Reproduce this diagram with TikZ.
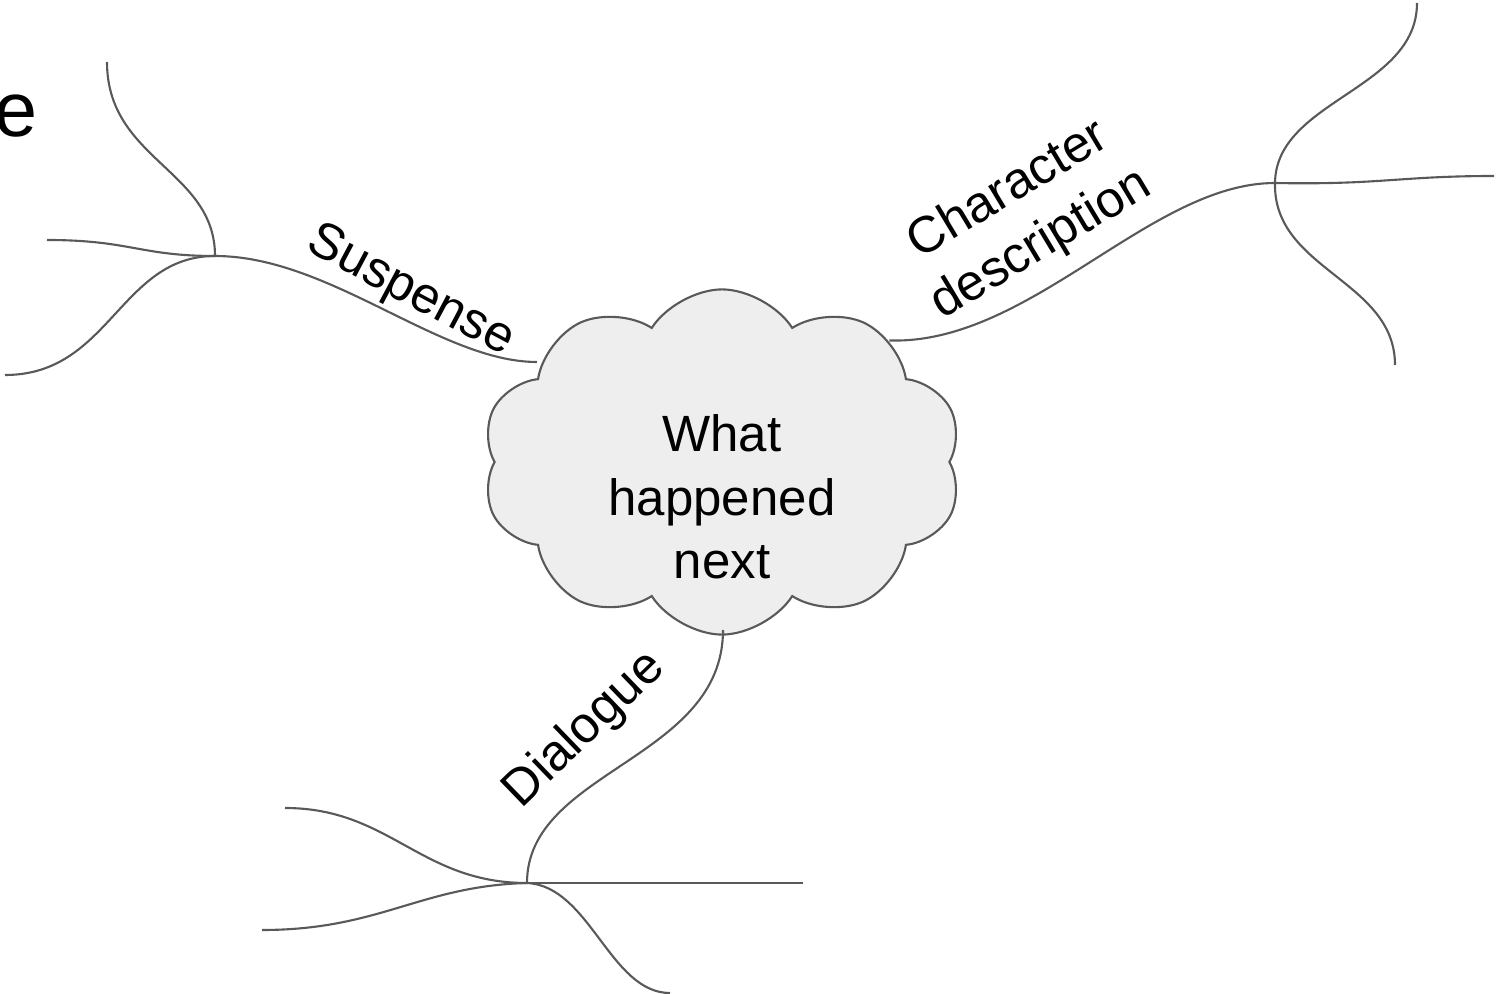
\documentclass[tikz,border=0pt]{standalone}
\usepackage{fontspec}
\setmainfont{Liberation Sans}
\usetikzlibrary{shapes.symbols}
\definecolor{cloudGrey}{HTML}{EEEEEE}
\definecolor{lineGrey}{HTML}{595959}

\begin{document}
\begin{tikzpicture}[x=0.01cm, y=-0.01cm,
    branch/.style={draw=lineGrey, line width=0.6pt},
    lbl/.style={font=\fontsize{14.5}{18}\selectfont, align=center, inner sep=0pt}]
    \useasboundingbox (0,0) rectangle (1499,994);
    % central cloud
    \node[cloud, cloud puffs=10, cloud puff arc=115, aspect=1.41, draw=lineGrey, fill=cloudGrey, line width=0.6pt,
        minimum width=4.8cm, minimum height=3.45cm, inner sep=0pt] (idea) at (722,462) {};
    \node[lbl] (ideaText) at (722,497) {What\\happened\\next};
    \node[font=\fontsize{22}{26}\selectfont, anchor=base east, inner sep=0pt] (cutText) at (38,137) {e};
    % cloud ends, junctions and free ends
    \coordinate (ideaW) at (537,362);
    \coordinate (ideaE) at (idea.36);
    \coordinate (ideaS) at (723,630);
    \coordinate (jSus) at (215,256);
    \coordinate (jChar) at (1275,183);
    \coordinate (jDia) at (527,883);
    \coordinate (susUp) at (107,62);
    \coordinate (susLeft) at (47,240);
    \coordinate (susDown) at (5,375);
    \coordinate (charUp) at (1417,3);
    \coordinate (charRight) at (1494,176);
    \coordinate (charDown) at (1395,365);
    \coordinate (diaRight) at (803,883);
    \coordinate (diaUp) at (285,808);
    \coordinate (diaLeft) at (262,930);
    \coordinate (diaDown) at (670,993);
    % main branches
    \draw[branch] (ideaW) .. controls (440,362) and (330,256) .. (jSus);
    \draw[branch] (ideaE) .. controls (1030,345) and (1150,183) .. (jChar);
    \draw[branch] (ideaS) .. controls (723,760) and (527,770) .. (jDia);
    % sub-branches
    \draw[branch] (jSus) .. controls (215,170) and (107,160) .. (susUp);
    \draw[branch] (jSus) .. controls (140,256) and (130,240) .. (susLeft);
    \draw[branch] (jSus) .. controls (120,256) and (110,375) .. (susDown);
    \draw[branch] (jChar) .. controls (1276,100) and (1417,90) .. (charUp);
    \draw[branch] (jChar) .. controls (1380,185) and (1400,176) .. (charRight);
    \draw[branch] (jChar) .. controls (1273,270) and (1395,280) .. (charDown);
    \draw[branch] (jDia) -- (diaRight);
    \draw[branch] (jDia) .. controls (420,883) and (390,808) .. (diaUp);
    \draw[branch] (jDia) .. controls (420,886) and (380,930) .. (diaLeft);
    \draw[branch] (jDia) .. controls (590,886) and (610,993) .. (diaDown);
    % labels
    \node[lbl, rotate=-28] (susLbl) at (410,292) {Suspense};
    \node[lbl, rotate=31] (charLbl) at (1025,218) {Character\\description};
    \node[lbl, rotate=44] (diaLbl) at (585,730) {Dialogue};
\end{tikzpicture}
\end{document}
